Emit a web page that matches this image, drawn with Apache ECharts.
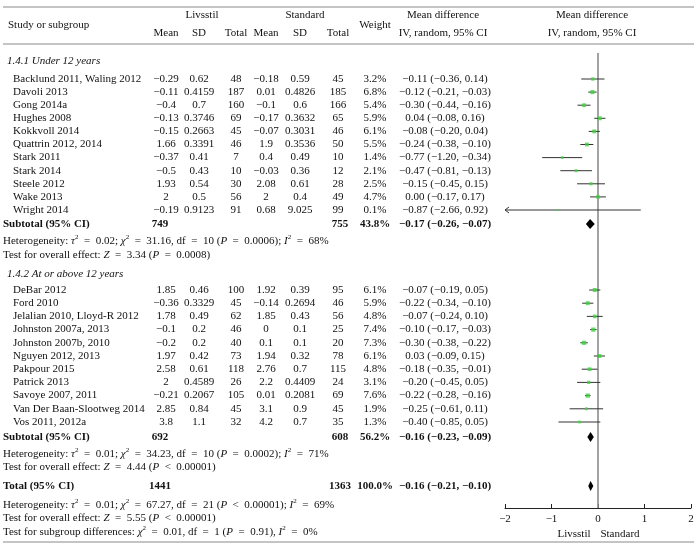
<!DOCTYPE html>
<html>
<head>
<meta charset="utf-8">
<script src="https://cdn.jsdelivr.net/npm/echarts@6/dist/echarts.min.js"></script>
<style>html,body{margin:0;padding:0;background:#fff}#c{width:700px;height:549px}</style>
</head>
<body>
<div id="c"></div>
<script>
// ---------- DATA ----------
const g1Names = ['Backlund 2011, Waling 2012','Davoli 2013','Gong 2014a','Hughes 2008','Kokkvoll 2014','Quattrin 2012, 2014','Stark 2011','Stark 2014','Steele 2012','Wake 2013','Wright 2014'];
const g1LMean = [-0.29,-0.11,-0.4,-0.13,-0.15,1.66,-0.37,-0.5,1.93,2,-0.19];
const g1LSD   = ['0.62','0.4159','0.7','0.3746','0.2663','0.3391','0.41','0.43','0.54','0.5','0.9123'];
const g1LN    = [48,187,160,69,45,46,7,10,30,56,91];
const g1SMean = [-0.18,0.01,-0.1,-0.17,-0.07,1.9,0.4,-0.03,2.08,2,0.68];
const g1SSD   = ['0.59','0.4826','0.6','0.3632','0.3031','0.3536','0.49','0.36','0.61','0.4','9.025'];
const g1SN    = [45,185,166,65,46,50,10,12,28,49,99];
const g1Weight= [3.2,6.8,5.4,5.9,6.1,5.5,1.4,2.1,2.5,4.7,0.1];
const g1MD    = [-0.11,-0.12,-0.30,0.04,-0.08,-0.24,-0.77,-0.47,-0.15,0.00,-0.87];
const g1Lo    = [-0.36,-0.21,-0.44,-0.08,-0.20,-0.38,-1.20,-0.81,-0.45,-0.17,-2.66];
const g1Hi    = [0.14,-0.03,-0.16,0.16,0.04,-0.10,-0.34,-0.13,0.15,0.17,0.92];

const g2Names = ['DeBar 2012','Ford 2010','Jelalian 2010, Lloyd-R 2012','Johnston 2007a, 2013','Johnston 2007b, 2010','Nguyen 2012, 2013','Pakpour 2015','Patrick 2013','Savoye 2007, 2011','Van Der Baan-Slootweg 2014','Vos 2011, 2012a'];
const g2LMean = [1.85,-0.36,1.78,-0.1,-0.2,1.97,2.58,2,-0.21,2.85,3.8];
const g2LSD   = ['0.46','0.3329','0.49','0.2','0.2','0.42','0.61','0.4589','0.2067','0.84','1.1'];
const g2LN    = [100,45,62,46,40,73,118,26,105,45,32];
const g2SMean = [1.92,-0.14,1.85,0,0.1,1.94,2.76,2.2,0.01,3.1,4.2];
const g2SSD   = ['0.39','0.2694','0.43','0.1','0.1','0.32','0.7','0.4409','0.2081','0.9','0.7'];
const g2SN    = [95,46,56,25,20,78,115,24,69,45,35];
const g2Weight= [6.1,5.9,4.8,7.4,7.3,6.1,4.8,3.1,7.6,1.9,1.3];
const g2MD    = [-0.07,-0.22,-0.07,-0.10,-0.30,0.03,-0.18,-0.20,-0.22,-0.25,-0.40];
const g2Lo    = [-0.19,-0.34,-0.24,-0.17,-0.38,-0.09,-0.35,-0.45,-0.28,-0.61,-0.85];
const g2Hi    = [0.05,-0.10,0.10,-0.03,-0.22,0.15,-0.01,0.05,-0.16,0.11,0.05];

const subtotalNames = ['Subtotal (95% CI)','Subtotal (95% CI)','Total (95% CI)'];
const subtotalLN    = [749,692,1441];
const subtotalSN    = [755,608,1363];
const subtotalW     = [43.8,56.2,100.0];
const subtotalMD    = [-0.17,-0.16,-0.16];
const subtotalLo    = [-0.26,-0.23,-0.21];
const subtotalHi    = [-0.07,-0.09,-0.10];

const groupTitles = ['1.4.1 Under 12 years','1.4.2 At or above 12 years'];
const statLines = [
  ['Heterogeneity: {i|τ}{sup|2} = 0.02; {i|χ}{sup|2} = 31.16, df = 10 ({i|P} = 0.0006); {i|I}{sup|2} = 68%',
   'Test for overall effect: {i|Z} = 3.34 ({i|P} = 0.0008)'],
  ['Heterogeneity: {i|τ}{sup|2} = 0.01; {i|χ}{sup|2} = 34.23, df = 10 ({i|P} = 0.0002); {i|I}{sup|2} = 71%',
   'Test for overall effect: {i|Z} = 4.44 ({i|P} < 0.00001)'],
  ['Heterogeneity: {i|τ}{sup|2} = 0.01; {i|χ}{sup|2} = 67.27, df = 21 ({i|P} < 0.00001); {i|I}{sup|2} = 69%',
   'Test for overall effect: {i|Z} = 5.55 ({i|P} < 0.00001)',
   'Test for subgroup differences: {i|χ}{sup|2} = 0.01, df = 1 ({i|P} = 0.91), {i|I}{sup|2} = 0%']
];
const xTicks = [-2,-1,0,1,2];
const favourLabels = ['Livsstil','Standard'];

// ---------- LAYOUT ----------
const FONT = '"Liberation Serif","DejaVu Serif",serif';
const FS = 11;
const AXIS_Y = 508;
const COL = {name:13, lmean:166, lsd:199, ln:236, smean:266, ssd:300, sn:338, w:375, md:445, plot:592};
const g1Y = g1Names.map((_, i) => 79 + i * 13.1);
const g2Y = g2Names.map((_, i) => 290 + i * 13.2);
const subY = [224, 437, 486];
const titleY = [61, 274];
const statY = [[241, 255], [454, 467], [505, 518, 532]];

const m = v => String(v).replace('-', '\u2212');
const f2 = v => v.toFixed(2).replace(/-/g, '\u2212');
const mdText = (a, l, h) => `${f2(a)} (${f2(l)}, ${f2(h)})`;
// math-style spacing around relation signs
const mathSpace = s => s.replace(/ ([=<]) /g, '\u2002$1\u2002');

const graphic = [];
function txt(x, y, text, opt) {
  opt = opt || {};
  graphic.push({
    type: 'text', x: x, y: y, silent: true,
    style: Object.assign({
      text: text, fill: '#111', fontFamily: FONT, fontSize: FS,
      align: opt.align || 'center', verticalAlign: 'middle',
      fontWeight: opt.bold ? 'bold' : 'normal', fontStyle: opt.italic ? 'italic' : 'normal'
    }, opt.rich ? {rich: opt.rich} : {})
  });
}
function hline(y, x1, x2, color, w) {
  graphic.push({type: 'line', silent: true, shape: {x1: x1, y1: y, x2: x2, y2: y}, style: {stroke: color, lineWidth: w}});
}
const richStat = {
  i: {fontStyle: 'italic', fontFamily: FONT, fontSize: FS},
  sup: {fontSize: 7, fontFamily: FONT, verticalAlign: 'top', lineHeight: 14}
};

// header
hline(7, 3, 694, '#8a8a8a', 1.2);
hline(44, 3, 694, '#8a8a8a', 1.2);
hline(542, 3, 694, '#8a8a8a', 1.2);
txt(8, 25, 'Study or subgroup', {align: 'left'});
txt(202, 15, 'Livsstil');
txt(305, 15, 'Standard');
[['Mean', COL.lmean], ['SD', COL.lsd], ['Total', COL.ln], ['Mean', COL.smean], ['SD', COL.ssd], ['Total', COL.sn]]
  .forEach(([t, x]) => txt(x, 33, t));
txt(COL.w, 25, 'Weight');
txt(443, 15, 'Mean difference');
txt(443, 33, 'IV, random, 95% CI');
txt(COL.plot, 15, 'Mean difference');
txt(COL.plot, 33, 'IV, random, 95% CI');

function studyRows(names, lm, lsd, ln, sm, ssd, sn, w, md, lo, hi, ys) {
  names.forEach((n, i) => {
    const y = ys[i];
    txt(COL.name, y, n, {align: 'left'});
    txt(COL.lmean, y, m(lm[i]));
    txt(COL.lsd, y, lsd[i]);
    txt(COL.ln, y, String(ln[i]));
    txt(COL.smean, y, m(sm[i]));
    txt(COL.ssd, y, ssd[i]);
    txt(COL.sn, y, String(sn[i]));
    txt(COL.w, y, w[i].toFixed(1) + '%');
    txt(COL.md, y, mdText(md[i], lo[i], hi[i]));
  });
}
txt(7, titleY[0], groupTitles[0], {align: 'left', italic: true});
studyRows(g1Names, g1LMean, g1LSD, g1LN, g1SMean, g1SSD, g1SN, g1Weight, g1MD, g1Lo, g1Hi, g1Y);
txt(7, titleY[1], groupTitles[1], {align: 'left', italic: true});
studyRows(g2Names, g2LMean, g2LSD, g2LN, g2SMean, g2SSD, g2SN, g2Weight, g2MD, g2Lo, g2Hi, g2Y);

subtotalNames.forEach((n, k) => {
  const y = subY[k];
  txt(3, y, n, {align: 'left', bold: true});
  txt(160, y, String(subtotalLN[k]), {bold: true});
  txt(340, y, String(subtotalSN[k]), {bold: true});
  txt(COL.w, y, subtotalW[k].toFixed(1) + '%', {bold: true});
  txt(COL.md, y, mdText(subtotalMD[k], subtotalLo[k], subtotalHi[k]), {bold: true});
});
statLines.forEach((lines, k) => lines.forEach((l, j) => txt(3, statY[k][j], mathSpace(l), {align: 'left', rich: richStat})));
txt(574, 534, favourLabels[0]);
txt(620, 534, favourLabels[1]);

// ---------- SERIES DATA ----------
const studies = [];
g1MD.forEach((v, i) => studies.push([g1Lo[i], g1Hi[i], g1Y[i], v, g1Weight[i]]));
g2MD.forEach((v, i) => studies.push([g2Lo[i], g2Hi[i], g2Y[i], v, g2Weight[i]]));
const diamonds = subtotalMD.map((v, k) => [subtotalLo[k], v, subtotalHi[k], subY[k]]);

const XMIN = xTicks[0], XMAX = xTicks[xTicks.length - 1];

const option = {
  animation: false,
  backgroundColor: '#fff',
  grid: {left: 505, right: 700 - 691, top: 0, bottom: 549 - AXIS_Y, containLabel: false},
  xAxis: {
    type: 'value', min: XMIN, max: XMAX, interval: 1,
    axisLine: {show: true, onZero: false, lineStyle: {color: '#222', width: 1}},
    axisTick: {show: true, inside: true, length: 4, lineStyle: {color: '#222'}},
    axisLabel: {color: '#111', fontFamily: FONT, fontSize: FS, margin: 6, formatter: v => m(v)},
    splitLine: {show: false}
  },
  yAxis: {type: 'value', min: 0, max: AXIS_Y, inverse: true, show: false},
  graphic: graphic,
  series: [
    {
      type: 'line', data: [[0, 53], [0, AXIS_Y]], symbol: 'none', silent: true,
      lineStyle: {color: '#8c8c8c', width: 1.6}, z: 1
    },
    {
      type: 'custom', silent: true, clip: false, z: 3,
      data: studies,
      encode: {x: [0, 1], y: 2},
      renderItem: (params, api) => {
        const lo = api.value(0), hi = api.value(1), y = api.value(2);
        const p1 = api.coord([Math.max(lo, XMIN), y]);
        const p2 = api.coord([Math.min(hi, XMAX), y]);
        const children = [{type: 'line', shape: {x1: p1[0], y1: p1[1], x2: p2[0], y2: p2[1]}, style: {stroke: '#333', lineWidth: 1}}];
        if (lo < XMIN) children.push({type: 'polyline', shape: {points: [[p1[0] + 4, p1[1] - 3], [p1[0], p1[1]], [p1[0] + 4, p1[1] + 3]]}, style: {stroke: '#333', lineWidth: 1, fill: null}});
        if (hi > XMAX) children.push({type: 'polyline', shape: {points: [[p2[0] - 4, p2[1] - 3], [p2[0], p2[1]], [p2[0] - 4, p2[1] + 3]]}, style: {stroke: '#333', lineWidth: 1, fill: null}});
        return {type: 'group', children: children};
      }
    },
    {
      type: 'scatter', silent: true, z: 4,
      data: studies.map(s => [s[3], s[2], s[4]]),
      symbol: 'rect',
      symbolSize: d => 1.6 + Math.sqrt(d[2]) * 0.95,
      itemStyle: {color: '#3fd23f'}
    },
    {
      type: 'custom', silent: true, clip: false, z: 5,
      data: diamonds,
      encode: {x: [0, 2], y: 3},
      renderItem: (params, api) => {
        const y = api.value(3);
        const a = api.coord([api.value(0), y]), c = api.coord([api.value(1), y]), b = api.coord([api.value(2), y]);
        return {type: 'polygon', shape: {points: [[a[0], y], [c[0], y - 5], [b[0], y], [c[0], y + 5]]}, style: {fill: '#000'}};
      }
    }
  ]
};
echarts.init(document.getElementById('c'), null, {renderer: 'canvas'}).setOption(option);
</script>
</body>
</html>
